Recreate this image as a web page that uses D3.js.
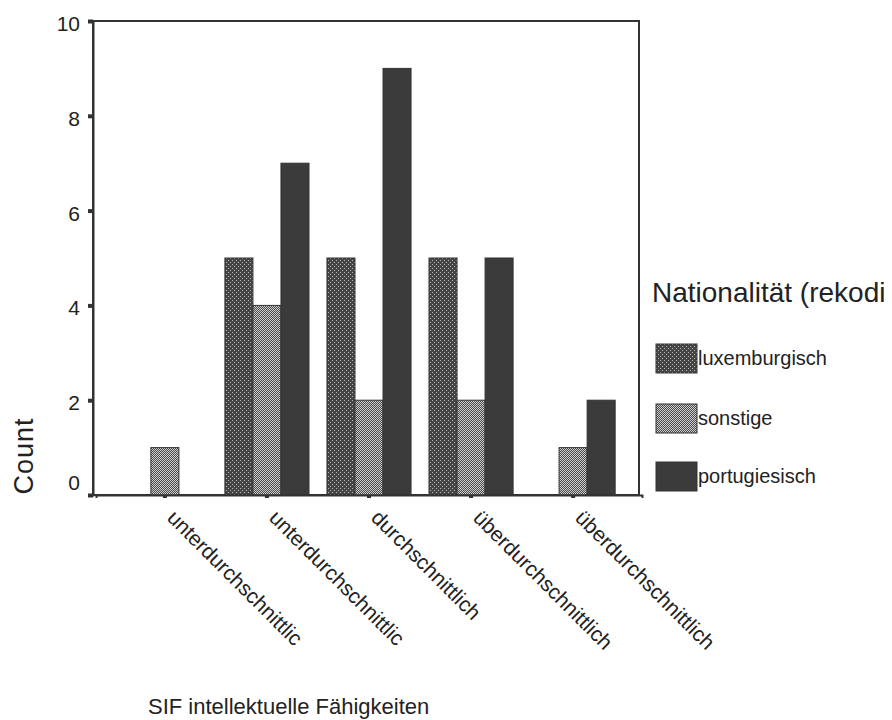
<!DOCTYPE html>
<html>
<head>
<meta charset="utf-8">
<script src="https://cdn.jsdelivr.net/npm/d3@7"></script>
<style>
  body { margin: 0; background: #fff; }
  text { font-family: Arial, "Liberation Sans", sans-serif; fill: #222; }
</style>
</head>
<body>
<div class="chart"></div>
<script>
// categories of SIF intellektuelle Fähigkeiten
let categories = ["unterdurchschnittlic", "unterdurchschnittlic ", "durchschnittlich", "überdurchschnittlich", "überdurchschnittlich "];
let groups = ["luxemburgisch", "sonstige", "portugiesisch"];
let luxemburgisch = [0, 5, 5, 5, 0];
let sonstige = [1, 4, 2, 2, 1];
let portugiesisch = [0, 7, 9, 5, 2];
let yTicks = [0, 2, 4, 6, 8, 10];

let series = [luxemburgisch, sonstige, portugiesisch];

let width = 892, height = 720;
let margin = {top: 21, left: 93, right: 253, bottom: 225};
let plotW = width - margin.left - margin.right;   // 546
let plotH = height - margin.top - margin.bottom;  // 474

const svg = d3.select(".chart")
  .append("svg")
  .attr("width", width)
  .attr("height", height);

// fill patterns like the old SPSS output
let defs = svg.append("defs");
let p1 = defs.append("pattern").attr("id", "pat-lux")
  .attr("width", 4).attr("height", 4).attr("patternUnits", "userSpaceOnUse");
p1.append("rect").attr("width", 4).attr("height", 4).attr("fill", "#454545");
p1.append("rect").attr("x", 0).attr("y", 0).attr("width", 1).attr("height", 1).attr("fill", "#b8b8b8");
p1.append("rect").attr("x", 2).attr("y", 2).attr("width", 1).attr("height", 1).attr("fill", "#b8b8b8");

let p2 = defs.append("pattern").attr("id", "pat-son")
  .attr("width", 2).attr("height", 2).attr("patternUnits", "userSpaceOnUse");
p2.append("rect").attr("width", 2).attr("height", 2).attr("fill", "#4a4a4a");
p2.append("rect").attr("x", 0).attr("y", 0).attr("width", 1).attr("height", 1).attr("fill", "#cfcfcf");
p2.append("rect").attr("x", 1).attr("y", 1).attr("width", 1).attr("height", 1).attr("fill", "#cfcfcf");

let fills = ["url(#pat-lux)", "url(#pat-son)", "#3b3b3b"];

let x0 = d3.scaleBand()
  .domain(categories)
  .range([margin.left + 3, margin.left + plotW + 3])
  .paddingInner(0.176)
  .paddingOuter(0.263);

let x1 = d3.scaleBand()
  .domain(groups)
  .range([0, x0.bandwidth()]);

let y = d3.scaleLinear()
  .domain([0, 10])
  .range([margin.top + plotH, margin.top]);

// frame
svg.append("rect")
  .attr("x", margin.left)
  .attr("y", margin.top)
  .attr("width", plotW)
  .attr("height", plotH)
  .attr("fill", "none")
  .attr("stroke", "#333")
  .attr("stroke-width", 2);

// bars
let g = svg.append("g");
categories.forEach(function (c, i) {
  groups.forEach(function (grp, j) {
    let v = series[j][i];
    if (v <= 0) return;
    g.append("rect")
      .attr("x", x0(c) + x1(grp))
      .attr("y", y(v))
      .attr("width", x1.bandwidth())
      .attr("height", y(0) - y(v))
      .attr("fill", fills[j])
      .attr("stroke", "#333")
      .attr("stroke-width", 1);
  });
});

// y axis
let yAx = svg.append("g")
  .attr("transform", "translate(" + margin.left + ",0)")
  .call(d3.axisLeft(y).tickValues(yTicks).tickSize(5).tickPadding(8));
yAx.select(".domain").attr("stroke", "#333").attr("stroke-width", 2);
yAx.selectAll(".tick line").attr("stroke", "#333").attr("stroke-width", 4);
yAx.selectAll(".tick text")
  .style("font-size", "21px")
  .attr("fill", "#222")
  .attr("dy", function (d) { return d === 0 ? "-0.25em" : "0.45em"; });

// x axis
let xAx = svg.append("g")
  .attr("transform", "translate(0," + (margin.top + plotH) + ")")
  .call(d3.axisBottom(x0).tickSize(3).tickFormat(""));
xAx.select(".domain").attr("stroke", "#333").attr("stroke-width", 2);
xAx.selectAll(".tick line").attr("stroke", "#333").attr("stroke-width", 4);

// rotated category labels
svg.append("g").selectAll("text")
  .data(categories)
  .enter()
  .append("text")
  .attr("transform", function (d) {
    return "translate(" + (x0(d) + x0.bandwidth() / 2 + 1) + "," + (margin.top + plotH + 24) + ") rotate(45)";
  })
  .attr("text-anchor", "start")
  .style("font-size", "21px")
  .text(function (d) { return d.trim(); });

// axis titles
svg.append("text")
  .attr("transform", "translate(33,456) rotate(-90)")
  .attr("text-anchor", "middle")
  .style("font-size", "27px")
  .style("letter-spacing", "1px")
  .text("Count");

svg.append("text")
  .attr("x", 148)
  .attr("y", 714)
  .style("font-size", "22px")
  .text("SIF intellektuelle Fähigkeiten");

// legend
let legend = svg.append("g");
legend.append("text")
  .attr("x", 652)
  .attr("y", 302)
  .style("font-size", "28px")
  .text("Nationalität (rekodi");

let legY = [344, 404, 462];
groups.forEach(function (grp, j) {
  legend.append("rect")
    .attr("x", 656)
    .attr("y", legY[j])
    .attr("width", 41)
    .attr("height", 29)
    .attr("fill", fills[j])
    .attr("stroke", "#333");
  legend.append("text")
    .attr("x", 698)
    .attr("y", legY[j] + 21)
    .style("font-size", "20px")
    .text(grp);
});
</script>
</body>
</html>
